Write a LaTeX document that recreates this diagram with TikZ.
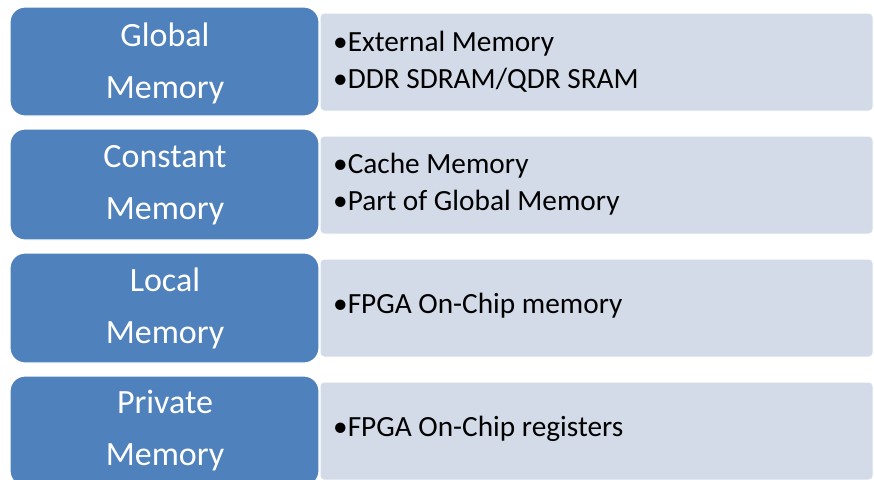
\documentclass[tikz,border=0pt]{standalone}
\usepackage{fontspec}
\setmainfont{Carlito}
\definecolor{boxblue}{HTML}{4F81BD}
\definecolor{boxgrey}{HTML}{D3DBE8}
\begin{document}
\begin{tikzpicture}[x=1pt,y=-1pt,
  bluebox/.style={fill=boxblue,draw=white,line width=1.2pt,rounded corners=15pt},
  greybox/.style={fill=boxgrey,draw=white,line width=1pt,rounded corners=4pt},
  title/.style={text=white,align=center,inner sep=0pt,font=\fontsize{34}{52}\selectfont},
  items/.style={text=black,align=left,anchor=west,inner sep=0pt,font=\fontsize{29.3}{37}\selectfont}]
\useasboundingbox (0,0) rectangle (874,479);
\begin{scope}
\clip (0,0) rectangle (874,479);
% row 1
\draw[greybox] (320,13) rectangle (873,111);
\draw[bluebox] (10,7) rectangle (319,116);
\node[title] (t1) at (165,63) {Global\\Memory};
\node[items] (d1) at (333,62) {•External Memory\\•DDR SDRAM/QDR SRAM};
% row 2
\draw[greybox] (320,136) rectangle (873,234);
\draw[bluebox] (10,129) rectangle (319,240);
\node[title] (t2) at (165,185) {Constant\\Memory};
\node[items] (d2) at (333,184) {•Cache Memory\\•Part of Global Memory};
% row 3
\draw[greybox] (320,259) rectangle (873,357);
\draw[bluebox] (10,253) rectangle (319,363);
\node[title] (t3) at (165,308) {Local\\Memory};
\node[items] (d3) at (333,306) {•FPGA On-Chip memory};
% row 4
\draw[greybox] (320,382) rectangle (873,480);
\draw[bluebox] (10,376) rectangle (319,486);
\node[title] (t4) at (165,431) {Private\\Memory};
\node[items] (d4) at (333,429) {•FPGA On-Chip registers};
\end{scope}
\end{tikzpicture}
\end{document}
